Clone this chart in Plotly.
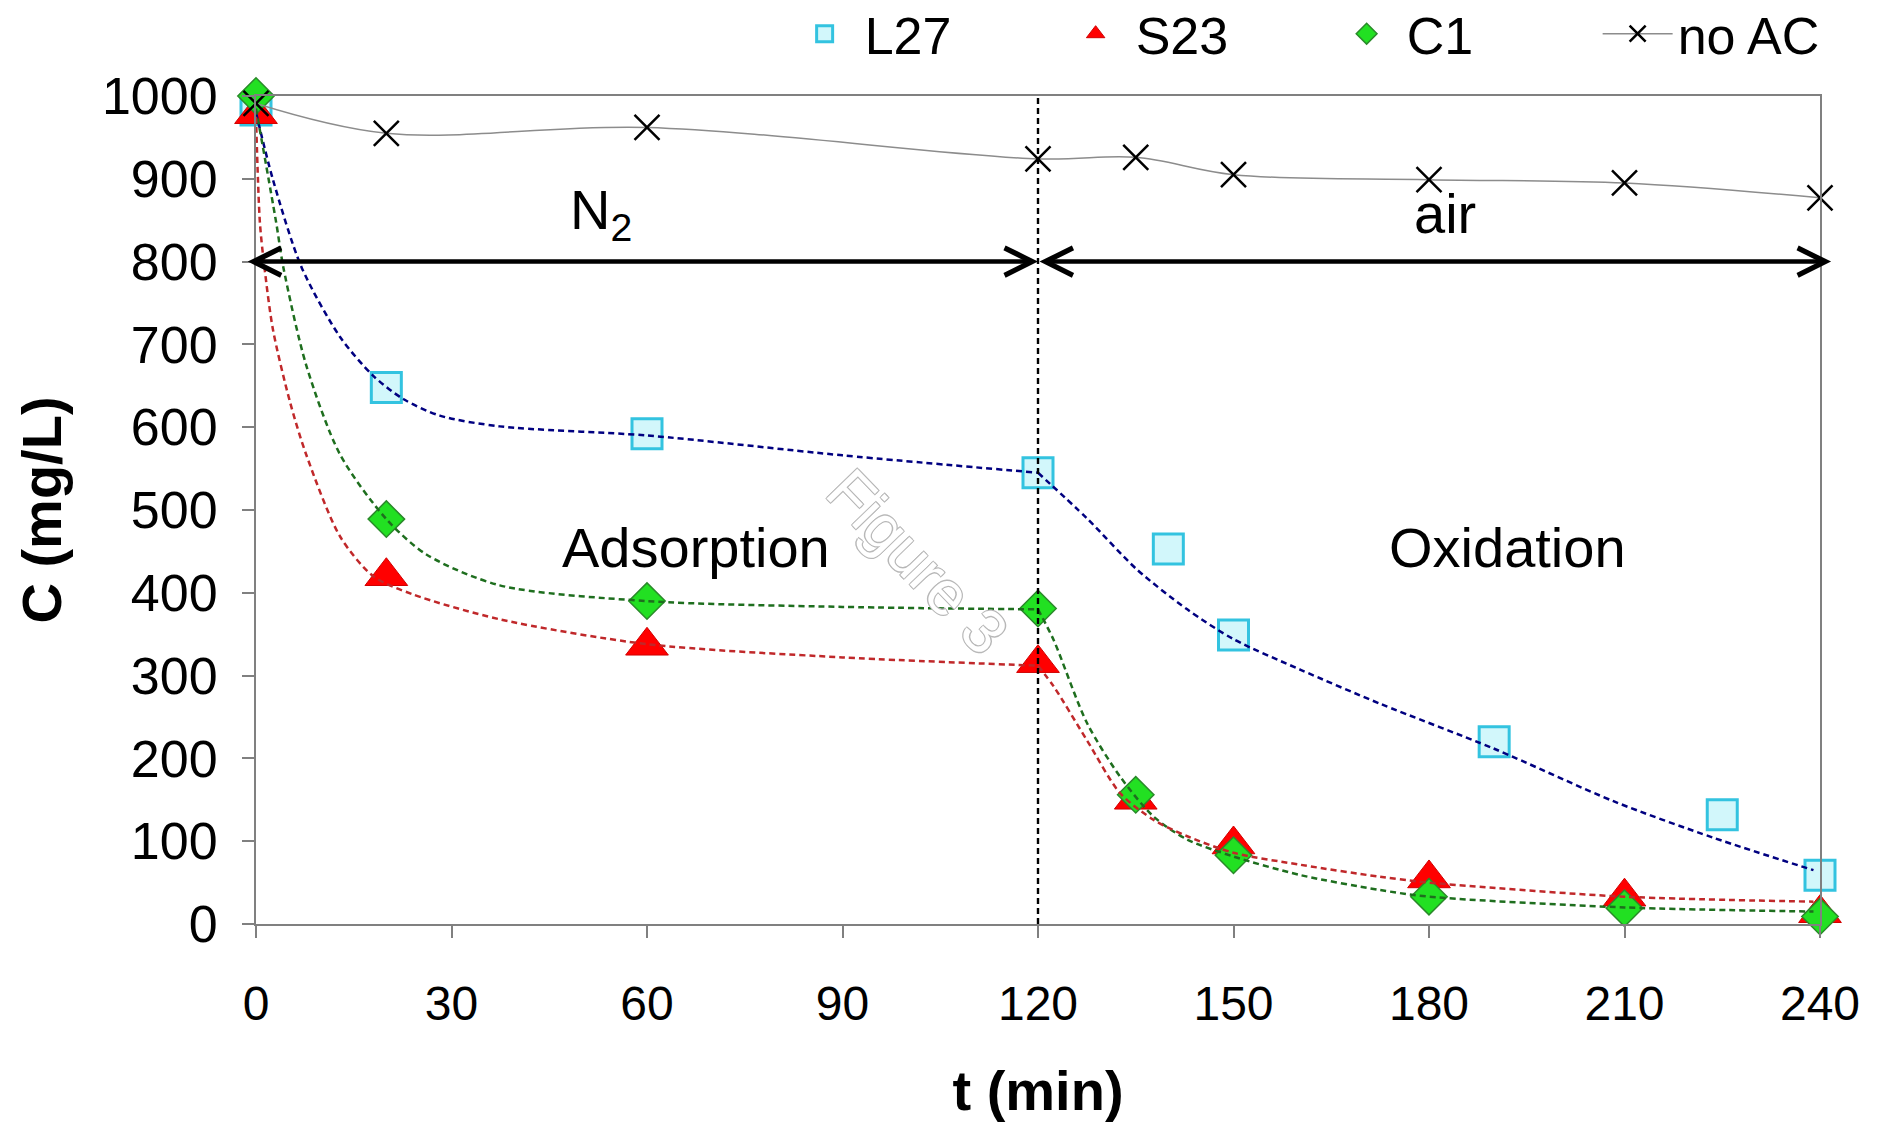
import plotly.graph_objects as go

# ---------------- data ----------------
t_pts = [0, 20, 60, 120, 135, 150, 180, 210, 240]
t_L27 = [0, 20, 60, 120, 140, 150, 190, 225, 240]

C_L27 = [983, 648, 592, 545, 453, 349, 220, 132, 59]
C_S23 = [978, 420, 336, 315, 150, 96, 55, 33, 13]
C_C1 = [1000, 489, 390, 381, 156, 83, 33, 19, 9]
C_noAC = [991, 955, 962, 924, 926, 905, 899, 895, 877]

# dashed fitted curves (adsorption phase 0-120 min, oxidation phase 120-240 min)
tf_L27_ads = [0, 2.6, 7, 12.9, 18, 22.6, 28.2, 37.4, 60, 90, 120]
Cf_L27_ads = [980, 899, 793, 709, 662, 634, 614, 601, 590, 566, 545]
tf_L27_ox = [120, 127.5, 135.2, 142.9, 150, 160.3, 172.5, 189.9, 208.4, 223.7, 239]
Cf_L27_ox = [545, 490, 428, 380, 344, 307, 266, 212, 148, 104, 65]

tf_C1_ads = [0, 3.1, 4.2, 7.7, 12.9, 20, 26.2, 37.4, 60, 90, 120]
Cf_C1_ads = [985, 847, 793, 675, 567, 489, 446, 409, 390, 383, 380]
tf_C1_ox = [120, 122.4, 127.5, 132.6, 137.7, 142.9, 150, 160.3, 172.5, 180, 210, 239]
Cf_C1_ox = [380, 343, 243, 178, 130, 102, 81.5, 59, 41, 33, 20, 15]

tf_S23_ads = [0, 0.6, 1.3, 2.6, 5.2, 7.7, 12.9, 18, 24.1, 37.4, 60, 90, 120]
Cf_S23_ads = [975, 847, 793, 718, 631, 567, 468, 420, 398, 368, 338, 322, 312]
tf_S23_ox = [120, 122.4, 127.5, 132.6, 137.7, 142.9, 150, 160.3, 172.5, 180, 210, 239]
Cf_S23_ox = [312, 287, 222, 158, 126, 106, 86, 71.5, 57, 50, 33, 27]

x_ticks = [0, 30, 60, 90, 120, 150, 180, 210, 240]
y_ticks = [0, 100, 200, 300, 400, 500, 600, 700, 800, 900, 1000]

FONT = "Liberation Sans, Arial, Helvetica, sans-serif"

fig = go.Figure()

# ---- markers ----
fig.add_trace(go.Scatter(
    x=t_L27, y=C_L27, mode="markers", name="L27", cliponaxis=False,
    marker=dict(symbol="square", size=30, color="#d2f7fb",
                line=dict(color="#33c3e0", width=3))))
fig.add_trace(go.Scatter(
    x=t_pts, y=C_S23, mode="markers", name="S23", cliponaxis=False,
    marker=dict(symbol="triangle-up", size=37, color="#ff0000",
                line=dict(color="#d00000", width=1))))
fig.add_trace(go.Scatter(
    x=t_pts, y=C_C1, mode="markers", name="C1", cliponaxis=False,
    marker=dict(symbol="diamond", size=28, color="#22e022",
                line=dict(color="#2a8a2a", width=1.5))))
fig.add_trace(go.Scatter(
    x=t_pts, y=C_noAC, mode="lines+markers", name="no AC", cliponaxis=False,
    line=dict(color="#8c8c8c", width=1.5, shape="spline", smoothing=1.0),
    marker=dict(symbol="x-thin", size=25, color="black",
                line=dict(color="black", width=2.5))))

# ---- dashed fit curves ----
fits = [
    (tf_L27_ads, Cf_L27_ads, "#000080"),
    (tf_L27_ox, Cf_L27_ox, "#000080"),
    (tf_C1_ads, Cf_C1_ads, "#1e6e1e"),
    (tf_C1_ox, Cf_C1_ox, "#1e6e1e"),
    (tf_S23_ads, Cf_S23_ads, "#c0282a"),
    (tf_S23_ox, Cf_S23_ox, "#c0282a"),
]
for tx, cy, col in fits:
    fig.add_trace(go.Scatter(
        x=tx, y=cy, mode="lines", showlegend=False, hoverinfo="skip",
        cliponaxis=False,
        line=dict(color=col, width=2.5, dash="6px,4px", shape="spline", smoothing=0.8)))

# ---- vertical dashed separator ----
fig.add_shape(type="line", xref="x", yref="y", x0=120, x1=120, y0=0, y1=1000,
              line=dict(color="black", width=2.4, dash="6px,4px"))

# ---- phase arrows ----
for x_from, x_to in [(-1.5, 120), (120, 241.7)]:
    fig.add_annotation(x=x_to, y=800, ax=x_from, ay=800, axref="x", ayref="y",
                       xref="x", yref="y", text="", showarrow=True,
                       arrowside="end+start", arrowhead=5, startarrowhead=5,
                       arrowsize=1.2, startarrowsize=1.2, arrowwidth=4.5,
                       arrowcolor="black", standoff=0, startstandoff=0)

# ---- text labels ----
lab_font = dict(family=FONT, size=56, color="black")
fig.add_annotation(x=53, y=858, xref="x", yref="y", text="N<sub>2</sub>",
                   showarrow=False, font=lab_font)
fig.add_annotation(x=182.5, y=858, xref="x", yref="y", text="air",
                   showarrow=False, font=lab_font)
fig.add_annotation(x=67.5, y=455, xref="x", yref="y", text="Adsorption",
                   showarrow=False, font=lab_font)
fig.add_annotation(x=192, y=455, xref="x", yref="y", text="Oxidation",
                   showarrow=False, font=lab_font)
# watermark (outlined light-grey text)
fig.add_annotation(x=101.5, y=438, xref="x", yref="y", text="Figure 3",
                   showarrow=False, textangle=46,
                   font=dict(family=FONT, size=62, color="white",
                             shadow="-1px -1px 0 #b8b8b8, 1px -1px 0 #b8b8b8, -1px 1px 0 #b8b8b8, 1px 1px 0 #b8b8b8"))

axis_common = dict(showgrid=False, zeroline=False, showline=True, mirror=True,
                   linecolor="#808080", linewidth=2, ticks="outside",
                   tickcolor="#808080", tickwidth=1.5, ticklen=12)

fig.update_xaxes(range=[0, 240], tickmode="array", tickvals=x_ticks,
                 ticktext=[str(v) for v in x_ticks],
                 tickfont=dict(family=FONT, size=48, color="black"),
                 ticklabelstandoff=24,
                 title=dict(text="<b>t (min)</b>", standoff=42,
                            font=dict(family=FONT, size=56, color="black")),
                 **axis_common)
fig.update_yaxes(range=[0, 1000], tickmode="array", tickvals=y_ticks,
                 ticktext=[str(v) for v in y_ticks],
                 tickfont=dict(family=FONT, size=52, color="black"),
                 ticklabelstandoff=14,
                 title=dict(text="<b>C (mg/L)</b>", standoff=22,
                            font=dict(family=FONT, size=56, color="black")),
                 **axis_common)

# the page body has an 8px margin, so the figure is sized/offset to compensate
fig.update_layout(
    width=1879, height=1122,
    margin=dict(l=248, r=67, t=88, b=206, autoexpand=False),
    paper_bgcolor="white", plot_bgcolor="white",
    font=dict(family=FONT, color="black"),
    showlegend=True,
    legend=dict(orientation="h", x=0.338, y=1.075, xanchor="left", yanchor="middle",
                font=dict(family=FONT, size=52, color="black"),
                bgcolor="rgba(0,0,0,0)", entrywidth=186, entrywidthmode="pixels",
                itemwidth=70, itemsizing="trace"),
)

fig.write_html("out.html")
